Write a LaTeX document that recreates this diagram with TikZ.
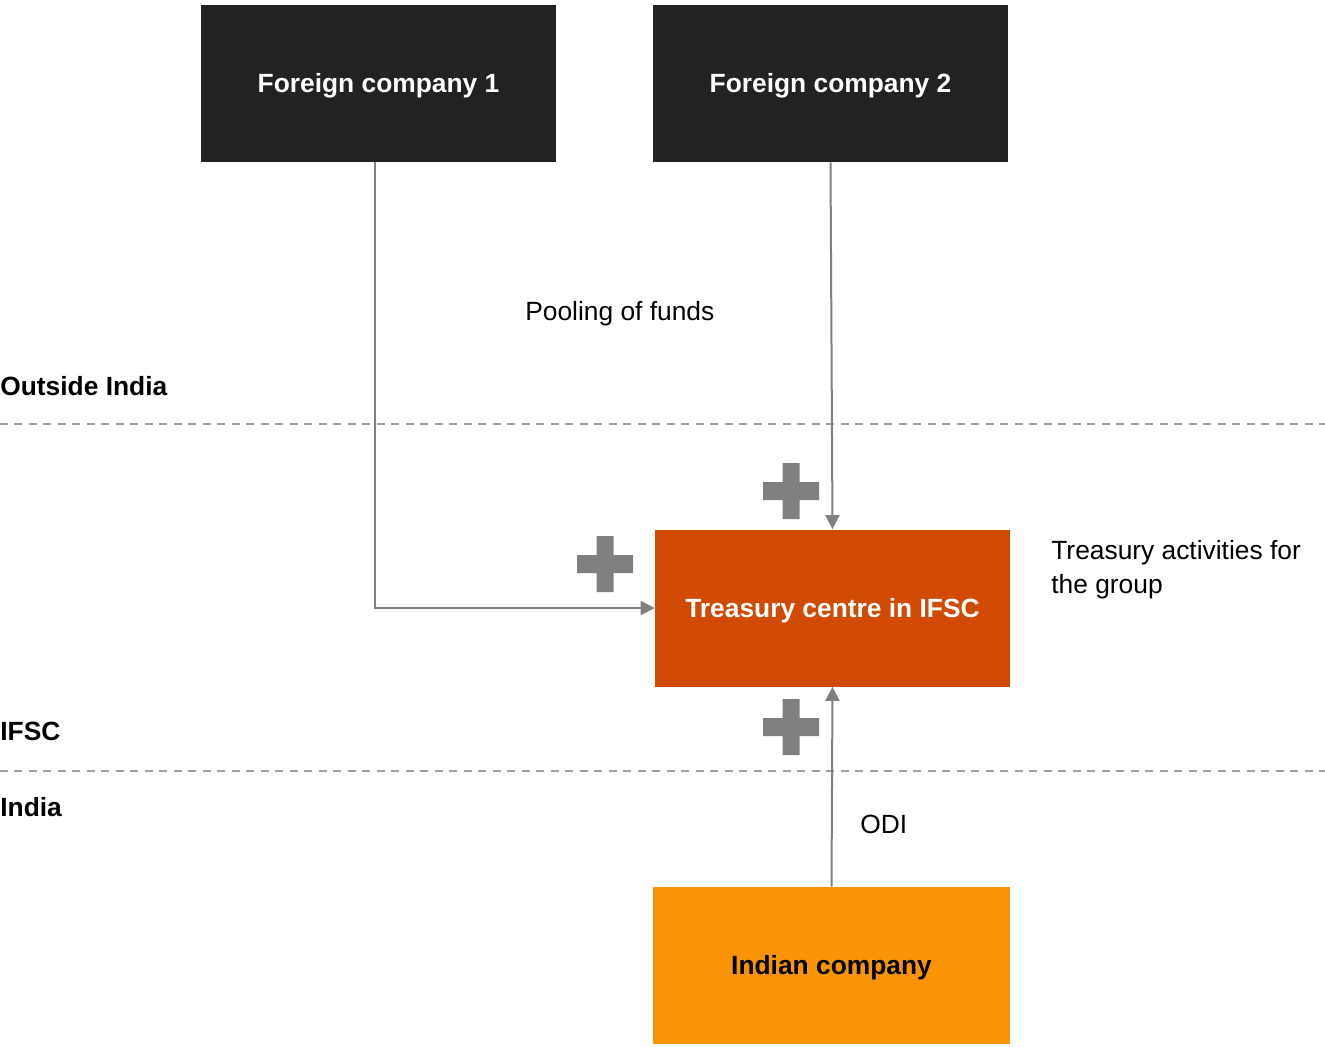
\documentclass[tikz,border=0pt]{standalone}
\usepackage{fontspec}
\setmainfont{Liberation Sans}
\usetikzlibrary{arrows.meta}
\definecolor{boxdark}{HTML}{222222}
\definecolor{boxred}{HTML}{D04A02}
\definecolor{boxorange}{HTML}{F89406}
\definecolor{linegray}{HTML}{808080}
\definecolor{dashgray}{HTML}{A0A0A0}
\begin{document}
\begin{tikzpicture}[x=0.02cm,y=-0.02cm,
    entity/.style={shape=rectangle,minimum width=7.1cm,minimum height=3.14cm,inner sep=0pt,text height=10.7pt,text depth=0pt,font=\fontsize{15}{18}\selectfont\bfseries},
    zone/.style={anchor=base west,inner sep=0pt,font=\fontsize{15}{18}\selectfont\bfseries},
    note/.style={anchor=base west,inner sep=0pt,font=\fontsize{15}{19.3}\selectfont,align=left},
    flow/.style={draw=linegray,line width=0.04cm,-{Triangle[width=0.28cm,length=0.28cm]}},
    border/.style={draw=dashgray,line width=0.04cm,dash pattern=on 0.16cm off 0.13cm}]
    \useasboundingbox (0,0) rectangle (1325,1046);

    % insert nodes
    \node[entity,fill=boxdark,text=white] (fc1) at (378.5,83.5) {Foreign company 1};
    \node[entity,fill=boxdark,text=white] (fc2) at (830.5,83.5) {Foreign company 2};
    \node[entity,fill=boxred,text=white] (tc) at (832.5,608) {Treasury centre in IFSC};
    \node[entity,fill=boxorange,text=black,minimum width=7.14cm] (ic) at (831.5,965.5) {Indian company};

    % zones
    \coordinate (l1) at (0,424);
    \coordinate (r1) at (1325,424);
    \coordinate (l2) at (0,771);
    \coordinate (r2) at (1325,771);
    \draw[border] (l1) -- (r1);
    \draw[border] (l2) -- (r2);
    \node[zone] (outside) at (0,395) {Outside India};
    \node[zone] (ifsc) at (0,740) {IFSC};
    \node[zone] (india) at (0,816) {India};

    % insert labels
    \node[note] (pool) at (525,320) {Pooling of funds};
    \node[note] (activ) at (1051,593) {Treasury activities for\\the group};
    \node[note] (odi) at (860,833) {ODI};

    % plus signs
    \foreach \px/\py in {791/491, 605/564, 791/727}
        \fill[linegray] (\px-8.5,\py-28) rectangle (\px+8.5,\py+28)
                        (\px-28,\py-9) rectangle (\px+28,\py+9);

    % insert links
    \draw[flow] ([xshift=-0.07cm]fc1.south) |- (tc.west);
    \draw[flow] (fc2.south) -- (tc.north);
    \draw[flow] (ic.north) -- (tc.south);
\end{tikzpicture}
\end{document}
